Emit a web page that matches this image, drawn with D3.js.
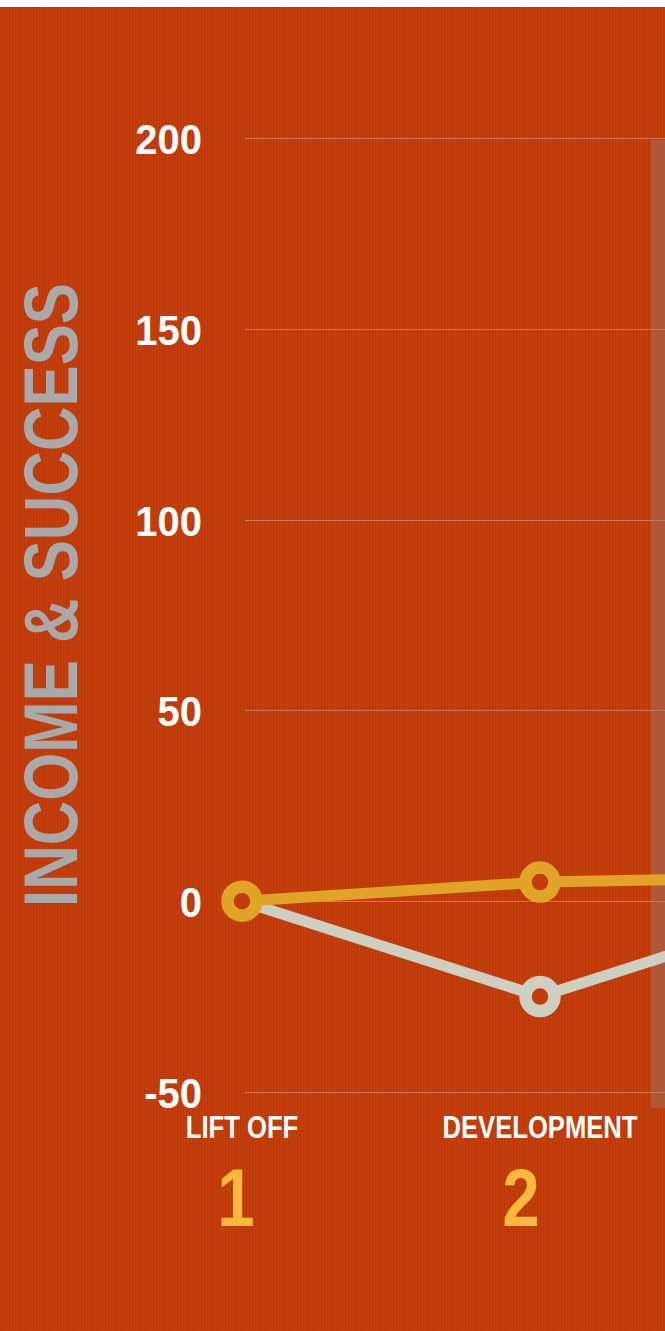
<!DOCTYPE html>
<html>
<head>
<meta charset="utf-8">
<script src="https://cdnjs.cloudflare.com/ajax/libs/d3/7.8.5/d3.min.js"></script>
<style>
  html, body { margin: 0; padding: 0; background: #ffffff; }
  svg { display: block; }
</style>
</head>
<body>
<script>
// ---- data ----
const stageLabels = ["LIFT OFF", "DEVELOPMENT"];
const stageNumbers = ["1", "2"];
const stageIndex = [0, 1, 2];            // third stage lies beyond the right edge
const goldValues = [0, 5, 6.5];
const greyValues = [0, -25, 0];
const yTicks = [-50, 0, 50, 100, 150, 200];
const yTitle = "INCOME & SUCCESS";

// ---- setup ----
const W = 665, H = 1331;
const bg = "#C43C0A";
const FONT = "'Liberation Sans Narrow', 'Arial Narrow', 'Liberation Sans', Arial, sans-serif";
const svg = d3.select("body").append("svg").attr("width", W).attr("height", H);

const defs = svg.append("defs");
const pat = defs.append("pattern").attr("id", "weave").attr("patternUnits", "userSpaceOnUse")
  .attr("width", 3).attr("height", 4);
pat.append("rect").attr("width", 3).attr("height", 4).attr("fill", bg);
pat.append("rect").attr("x", 0).attr("width", 1).attr("height", 4).attr("fill", "#000").attr("opacity", 0.05);
pat.append("rect").attr("x", 2).attr("y", 0).attr("width", 1).attr("height", 2).attr("fill", "#fff").attr("opacity", 0.03);

svg.append("rect").attr("x", 0).attr("y", 7).attr("width", W).attr("height", H - 7).attr("fill", "url(#weave)");

const y = d3.scaleLinear().domain([-50, 200]).range([1092, 138]);
const x = d3.scaleLinear().domain([0, 1]).range([242, 540]);
const xNum = d3.scaleLinear().domain([0, 1]).range([236, 521]);

// grid
const gridG = svg.append("g");
gridG.selectAll("line").data(yTicks).join("line")
  .attr("x1", 245).attr("x2", W)
  .attr("y1", d => Math.round(y(d)) + 0.5).attr("y2", d => Math.round(y(d)) + 0.5)
  .attr("stroke", "#ffffff").attr("stroke-opacity", 0.3).attr("stroke-width", 1);

// translucent band at right
svg.append("rect")
  .attr("x", 651).attr("y", y(200) + 2)
  .attr("width", W - 651).attr("height", (y(-50) + 16) - (y(200) + 2))
  .attr("fill", "#9a7a72").attr("opacity", 0.45);

// y axis tick labels
const axis = d3.axisLeft(y).tickValues(yTicks).tickSize(0).tickPadding(0).tickFormat(d => String(d));
const axG = svg.append("g").attr("transform", "translate(202,0)").call(axis);
axG.select(".domain").remove();
axG.selectAll("text")
  .attr("fill", "#ffffff")
  .attr("font-family", FONT)
  .attr("font-weight", "bold")
  .attr("font-size", 43)
  .attr("transform", "scale(0.93,1)")
  .attr("dy", "0.36em");

// y title
svg.append("text")
  .attr("transform", `translate(77,${(283 + 907) / 2}) rotate(-90)`)
  .attr("text-anchor", "middle")
  .attr("fill", "#A9A9A9")
  .attr("font-family", FONT)
  .attr("font-weight", "bold")
  .attr("font-size", 76)
  .attr("textLength", 624)
  .attr("lengthAdjust", "spacingAndGlyphs")
  .text(yTitle);

// lines
const line = d3.line().x(d => x(d.i)).y(d => y(d.v));
const greyPts = stageIndex.map((i, k) => ({ i, v: greyValues[k] }));
const goldPts = stageIndex.map((i, k) => ({ i, v: goldValues[k] }));

svg.append("path").datum(greyPts).attr("d", line)
  .attr("fill", "none").attr("stroke", "#CDD0C1").attr("stroke-width", 11).attr("stroke-linejoin", "round");
svg.selectAll("circle.grey").data(greyPts.slice(1)).join("circle").attr("class", "grey")
  .attr("cx", d => x(d.i)).attr("cy", d => y(d.v)).attr("r", 14.5)
  .attr("fill", bg).attr("stroke", "#CDD0C1").attr("stroke-width", 12.5);

svg.append("path").datum(goldPts).attr("d", line)
  .attr("fill", "none").attr("stroke", "#E0A526").attr("stroke-width", 11).attr("stroke-linejoin", "round");
svg.selectAll("circle.gold").data(goldPts).join("circle").attr("class", "gold")
  .attr("cx", d => x(d.i)).attr("cy", d => y(d.v)).attr("r", 14.5)
  .attr("fill", bg).attr("stroke", "#E0A526").attr("stroke-width", 12.5);

// stage labels
svg.selectAll("text.stage").data(stageLabels).join("text").attr("class", "stage")
  .attr("transform", (d, i) => `translate(${x(i)},1138) scale(0.84,1)`)
  .attr("text-anchor", "middle")
  .attr("fill", "#ffffff")
  .attr("font-family", FONT)
  .attr("font-weight", "bold")
  .attr("font-size", 30.5)
  .text(d => d);

svg.selectAll("text.num").data(stageNumbers).join("text").attr("class", "num")
  .attr("transform", (d, i) => `translate(${xNum(i)},1226) scale(0.82,1)`)
  .attr("text-anchor", "middle")
  .attr("fill", "#F9B93C")
  .attr("font-family", FONT)
  .attr("font-weight", "bold")
  .attr("font-size", 82)
  .text(d => d);
</script>
</body>
</html>
